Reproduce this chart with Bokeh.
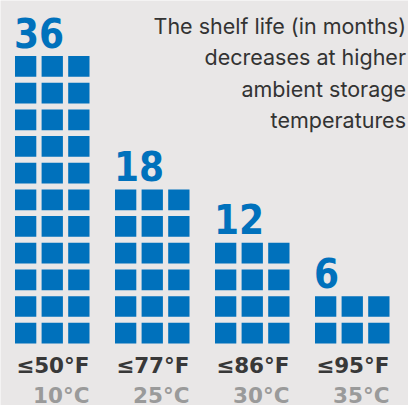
from bokeh.plotting import figure
from bokeh.models import ColumnDataSource, Range1d
from bokeh.core.properties import value
from bokeh.embed import file_html
from bokeh.resources import INLINE

# ---- data ----
months = [36, 18, 12, 6]                 # printed values
rows_drawn = [11, 6, 4, 2]               # rows of 3 squares as drawn
temp_f = ["≤50°F", "≤77°F", "≤86°F", "≤95°F"]
temp_c = ["10°C", "25°C", "30°C", "35°C"]
title_lines = ["The shelf life (in months)", "decreases at higher",
               "ambient storage", "temperatures"]
COLS = 3

# ---- layout (pixel units, y measured from bottom) ----
BG = "#e9e7e7"
BLUE = "#0071bc"
GROUP_X0 = 14.5
GROUP_STEP = 100
PITCH_X = 26.6
PITCH_Y = 26.67
SQ_W = 21.3
SQ_H = 20.7
BOTTOM = 62.0
NUM_SIZE = 40
TEMP_SIZE = 21.5

xs, ys = [], []
for g, nrows in enumerate(rows_drawn):
    x0 = GROUP_X0 + g * GROUP_STEP
    for r in range(nrows):
        for c in range(COLS):
            xs.append(x0 + c * PITCH_X + SQ_W / 2)
            ys.append(BOTTOM + SQ_H / 2 + r * PITCH_Y)
sq = ColumnDataSource(dict(x=xs, y=ys))

lab_x = [GROUP_X0 + g * GROUP_STEP - 1 for g in range(len(months))]
lab_y = [BOTTOM + (n - 1) * PITCH_Y + SQ_H + 10 + 0.34 * NUM_SIZE for n in rows_drawn]
labs = ColumnDataSource(dict(x=lab_x, y=lab_y, t=[str(m) for m in months]))

right_x = [GROUP_X0 + g * GROUP_STEP + 74.5 for g in range(len(months))]
fsrc = ColumnDataSource(dict(x=right_x, y=[32.3 + 0.34 * TEMP_SIZE] * 4, t=temp_f))
csrc = ColumnDataSource(dict(x=right_x, y=[2.3 + 0.34 * TEMP_SIZE] * 4, t=temp_c))

tsrc = ColumnDataSource(dict(x=[405.5] * 4, y=[379.5, 348.5, 317, 285.5], t=title_lines))

p = figure(width=408, height=405, output_backend="svg", toolbar_location=None,
           x_range=Range1d(0, 408), y_range=Range1d(0, 405),
           background_fill_color=BG, border_fill_color=BG, min_border=0,
           outline_line_color=None, tools="")
p.axis.visible = False
p.grid.visible = False

p.rect(x="x", y="y", width=SQ_W, height=SQ_H, source=sq,
       fill_color=BLUE, line_color=None)

p.text(x="x", y="y", text="t", source=labs, text_color=BLUE,
       text_font=value("Noto Sans ExtraCondensed, Noto Sans Condensed, DejaVu Sans Condensed"),
       text_font_style="bold",
       text_font_size=f"{NUM_SIZE}px", text_baseline="alphabetic", text_align="left")

p.text(x="x", y="y", text="t", source=fsrc, text_color="#383838",
       text_font=value("DejaVu Sans"), text_font_style="bold",
       text_font_size=f"{TEMP_SIZE}px", text_baseline="alphabetic", text_align="right")

p.text(x="x", y="y", text="t", source=csrc, text_color="#9a9a9a",
       text_font=value("DejaVu Sans"), text_font_style="bold",
       text_font_size=f"{TEMP_SIZE}px", text_baseline="alphabetic", text_align="right")

p.text(x="x", y="y", text="t", source=tsrc, text_color="#333333",
       text_font=value("Inter"), text_font_size="21.5px",
       text_baseline="alphabetic", text_align="right")

open("out.html", "w").write(file_html(p, INLINE))
